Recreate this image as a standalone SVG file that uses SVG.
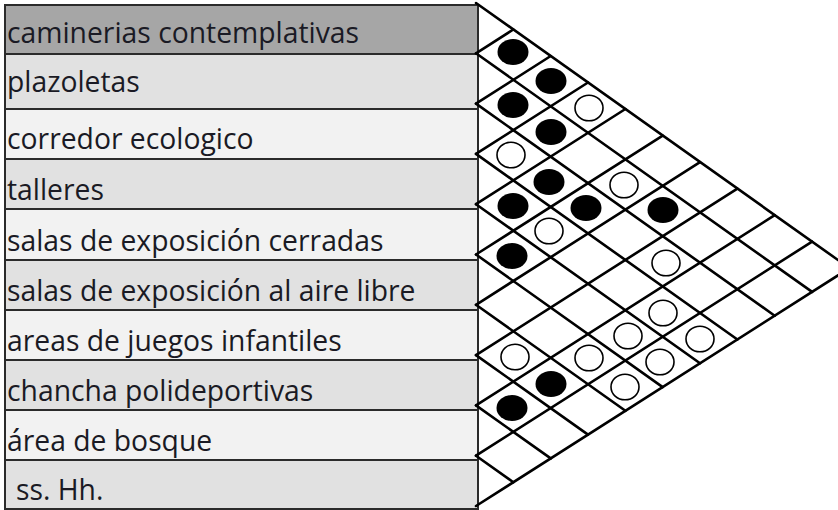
<svg xmlns="http://www.w3.org/2000/svg" width="838" height="510" viewBox="0 0 838 510">
<style>
  .row rect { stroke: #2b2b2b; stroke-width: 2; }
  .d { fill: #a6a6a6; }
  .m { fill: #e1e1e1; }
  .l { fill: #f2f2f2; }
  .lbl { font-family: "Open Sans", "Liberation Sans", sans-serif; font-size: 28.3px; fill: #1a1a24; }
  .grid line { stroke: #000; stroke-width: 2.6; stroke-linecap: round; }
  .b { fill: #000; }
  .w { fill: #fff; stroke: #000; stroke-width: 1.6; }
</style>
<rect width="838" height="510" fill="#fff"/>
<g id="rows">
  <g id="row1" class="row"><rect class="d" x="5" y="5" width="473" height="49"/><text class="lbl" x="7" y="43">caminerias contemplativas</text></g>
  <g id="row2" class="row"><rect class="m" x="5" y="54" width="473" height="55"/><text class="lbl" x="7" y="92">plazoletas</text></g>
  <g id="row3" class="row"><rect class="l" x="5" y="109" width="473" height="50"/><text class="lbl" x="7" y="149">corredor ecologico</text></g>
  <g id="row4" class="row"><rect class="m" x="5" y="159" width="473" height="50"/><text class="lbl" x="7" y="200">talleres</text></g>
  <g id="row5" class="row"><rect class="l" x="5" y="209" width="473" height="51"/><text class="lbl" x="7" y="251">salas de exposición cerradas</text></g>
  <g id="row6" class="row"><rect class="m" x="5" y="260" width="473" height="50"/><text class="lbl" x="7" y="301">salas de exposición al aire libre</text></g>
  <g id="row7" class="row"><rect class="l" x="5" y="310" width="473" height="50"/><text class="lbl" x="7" y="351">areas de juegos infantiles</text></g>
  <g id="row8" class="row"><rect class="m" x="5" y="360" width="473" height="50"/><text class="lbl" x="7" y="401">chancha polideportivas</text></g>
  <g id="row9" class="row"><rect class="l" x="5" y="410" width="473" height="50"/><text class="lbl" x="7" y="451">área de bosque</text></g>
  <g id="row10" class="row"><rect class="m" x="5" y="460" width="473" height="49"/><text class="lbl" x="16" y="500">ss. Hh.</text></g>
</g>
<g id="connectors" class="grid">
  <line x1="476" y1="3" x2="849.4" y2="268.1"/>
  <line x1="476" y1="53.3" x2="812.1" y2="291.9"/>
  <line x1="476" y1="103.6" x2="774.7" y2="315.7"/>
  <line x1="476" y1="153.9" x2="737.4" y2="339.5"/>
  <line x1="476" y1="204.2" x2="700" y2="363.2"/>
  <line x1="476" y1="254.5" x2="662.7" y2="387.1"/>
  <line x1="476" y1="304.8" x2="625.4" y2="410.8"/>
  <line x1="476" y1="355.1" x2="588" y2="434.6"/>
  <line x1="476" y1="405.4" x2="550.7" y2="458.4"/>
  <line x1="476" y1="455.7" x2="513.3" y2="482.2"/>
  <line x1="476" y1="53.3" x2="513.3" y2="29.5"/>
  <line x1="476" y1="103.6" x2="550.7" y2="56"/>
  <line x1="476" y1="153.9" x2="588" y2="82.5"/>
  <line x1="476" y1="204.2" x2="625.4" y2="109"/>
  <line x1="476" y1="254.5" x2="662.7" y2="135.6"/>
  <line x1="476" y1="304.8" x2="700" y2="162.1"/>
  <line x1="476" y1="355.1" x2="737.4" y2="188.6"/>
  <line x1="476" y1="405.4" x2="774.7" y2="215.1"/>
  <line x1="476" y1="455.7" x2="812.1" y2="241.6"/>
  <line x1="476" y1="506" x2="849.4" y2="268.1"/>
</g>
<g id="marks">
  <ellipse class="b" cx="513" cy="52" rx="15.5" ry="13"/>
  <ellipse class="b" cx="551" cy="81" rx="15.5" ry="13"/>
  <ellipse class="b" cx="513" cy="105" rx="15.5" ry="13"/>
  <ellipse class="w" cx="589" cy="108" rx="14" ry="12.8"/>
  <ellipse class="b" cx="551" cy="132" rx="15.5" ry="13"/>
  <ellipse class="w" cx="511" cy="155" rx="14" ry="12.8"/>
  <ellipse class="b" cx="549" cy="182" rx="15.5" ry="13"/>
  <ellipse class="w" cx="624" cy="185" rx="14" ry="12.8"/>
  <ellipse class="b" cx="513" cy="206" rx="15.5" ry="13"/>
  <ellipse class="b" cx="586" cy="208" rx="15.5" ry="13"/>
  <ellipse class="b" cx="663" cy="210" rx="15.5" ry="13"/>
  <ellipse class="w" cx="549" cy="231" rx="14" ry="12.8"/>
  <ellipse class="b" cx="512" cy="256" rx="15.5" ry="13"/>
  <ellipse class="w" cx="666" cy="263" rx="14" ry="12.8"/>
  <ellipse class="w" cx="663" cy="313" rx="14" ry="12.8"/>
  <ellipse class="w" cx="628" cy="336" rx="14" ry="12.8"/>
  <ellipse class="w" cx="700" cy="339" rx="14" ry="12.8"/>
  <ellipse class="w" cx="515" cy="357" rx="14" ry="12.8"/>
  <ellipse class="w" cx="589" cy="358" rx="14" ry="12.8"/>
  <ellipse class="w" cx="660" cy="362" rx="14" ry="12.8"/>
  <ellipse class="b" cx="551" cy="384" rx="15.5" ry="13"/>
  <ellipse class="w" cx="625" cy="387" rx="14" ry="12.8"/>
  <ellipse class="b" cx="512" cy="408" rx="15.5" ry="13"/>
</g>
</svg>
